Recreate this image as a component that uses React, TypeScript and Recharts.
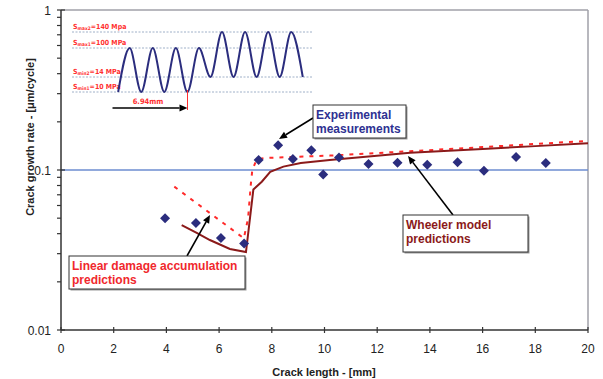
import React from 'react';
import { ComposedChart, LineChart, Line, Scatter, XAxis, YAxis, ReferenceLine } from 'recharts';

const FONT = "'Liberation Sans', Arial, Helvetica, sans-serif";
const NARROW = "'Liberation Sans Narrow', 'DejaVu Sans Condensed', 'Liberation Sans', Arial, sans-serif";

const NAVY = '#2b2d7e';
const DARK_RED = '#8b1a1a';
const RED = '#f0282d';

// axes
const X_TICKS = [0, 2, 4, 6, 8, 10, 12, 14, 16, 18, 20];
const Y_MAJOR = [0.01, 0.1, 1];
const Y_MINOR = [0.02, 0.03, 0.04, 0.05, 0.06, 0.07, 0.08, 0.09, 0.2, 0.3, 0.4, 0.5, 0.6, 0.7, 0.8, 0.9];

// experimental measurements (diamonds)
const MEAS_X = [3.95, 5.12, 6.07, 6.95, 7.5, 8.24, 8.8, 9.5, 9.95, 10.55, 11.67, 12.77, 13.9, 15.05, 16.05, 17.27, 18.4];
const MEAS_Y = [0.05, 0.0467, 0.0376, 0.0347, 0.1155, 0.143, 0.117, 0.133, 0.0937, 0.1197, 0.109, 0.111, 0.108, 0.1117, 0.099, 0.1206, 0.1106];

// Wheeler model (solid)
const WHEELER_X = [4.58, 5.15, 5.65, 6.41, 7.02, 7.3, 7.62, 7.94, 8.44, 9.1, 10.2, 13.25, 16, 18, 20];
const WHEELER_Y = [0.0453, 0.0404, 0.0365, 0.0321, 0.0307, 0.0755, 0.0845, 0.0975, 0.105, 0.1106, 0.1155, 0.128, 0.1355, 0.141, 0.147];

// linear damage accumulation (dotted)
const LINEAR_X = [4.3, 6.94, 7.1, 7.2, 7.26, 7.43, 7.8, 10.2, 13.25, 16, 18, 20];
const LINEAR_Y = [0.0787, 0.0374, 0.05, 0.08, 0.1, 0.1167, 0.119, 0.123, 0.131, 0.139, 0.1455, 0.152];

// inset load schematic: cycle position and level name
const WAVE_T = [0, 0.5, 1, 1.5, 2, 2.5, 3, 3.5, 4, 4.5, 5, 5.5, 6, 6.5, 7, 7.5, 8];
const WAVE_LEVEL = ['min1', 'max1', 'min1', 'max1', 'min1', 'max1', 'min1', 'max1', 'min2', 'max2', 'min2', 'max2', 'min2', 'max2', 'min2', 'max2', 'min2'];
// schematic heights of the stress levels in the inset
const LEVEL_HEIGHT: Record<string, number> = { max2: 80, max1: 64, min2: 35, min1: 20 };
const LEVEL_LABELS = [
  { key: 'max2', sub: 'max2', text: '=140 Mpa' },
  { key: 'max1', sub: 'max1', text: '=100 MPa' },
  { key: 'min2', sub: 'min2', text: '=14 MPa' },
  { key: 'min1', sub: 'min1', text: '=10 MPa' },
];

const meas = MEAS_X.map((x, i) => ({ x, y: MEAS_Y[i] }));
const wheeler = WHEELER_X.map((x, i) => ({ x, y: WHEELER_Y[i] }));
const linear = LINEAR_X.map((x, i) => ({ x, y: LINEAR_Y[i] }));
const wave = WAVE_T.map((t, i) => ({ t, h: LEVEL_HEIGHT[WAVE_LEVEL[i]] }));
const Y_TICKS = [...Y_MAJOR, ...Y_MINOR].sort((a, b) => a - b);

const Diamond = (props: any) => {
  const { cx, cy } = props;
  if (cx == null || cy == null) return null;
  const r = 5;
  return <polygon points={`${cx},${cy - r} ${cx + r},${cy} ${cx},${cy + r} ${cx - r},${cy}`} fill={NAVY} />;
};

const YTick = (props: any) => {
  const { x, y, payload } = props;
  const v = payload.value;
  const major = Y_MAJOR.includes(v);
  return (
    <g>
      <line x1={x - 4} x2={major ? x + 4 : x} y1={y} y2={y} stroke="#333" strokeWidth={1.2} />
      {major && (
        <text x={x - 10} y={y} dy={4.5} textAnchor="end" fontSize={12} fill="#222" fontFamily={FONT}>
          {String(v)}
        </text>
      )}
    </g>
  );
};

const XTick = (props: any) => {
  const { x, y, payload } = props;
  return (
    <g>
      <line x1={x} x2={x} y1={y - 3} y2={y + 3} stroke="#333" strokeWidth={1.2} />
      <text x={x} y={y + 23} textAnchor="middle" fontSize={12} fill="#222" fontFamily={FONT}>
        {payload.value}
      </text>
    </g>
  );
};

const LevelLabel = (props: any) => {
  const { viewBox, sub, text } = props;
  if (!viewBox) return null;
  return (
    <text x={viewBox.x + 1} y={viewBox.y - 3.5} fill="#ff3030" fontSize={7} fontWeight="bold" fontFamily={NARROW}>
      S
      <tspan fontSize={4.8} dy={1.5}>{sub}</tspan>
      <tspan fontSize={7} dy={-1.5}>{text}</tspan>
    </text>
  );
};

function Arrow({ x1, y1, x2, y2 }: { x1: number; y1: number; x2: number; y2: number }) {
  const a = Math.atan2(y2 - y1, x2 - x1);
  const L = 8;
  const W = 3.5;
  const bx = x2 - L * Math.cos(a);
  const by = y2 - L * Math.sin(a);
  const px = -Math.sin(a) * W;
  const py = Math.cos(a) * W;
  return (
    <g>
      <line x1={x1} y1={y1} x2={bx} y2={by} stroke="#000" strokeWidth={1.6} />
      <polygon points={`${x2},${y2} ${bx + px},${by + py} ${bx - px},${by - py}`} fill="#000" />
    </g>
  );
}

function NoteBox({ x, y, w, h, lines, color }: { x: number; y: number; w: number; h: number; lines: string[]; color: string }) {
  return (
    <g>
      <rect x={x + 1.5} y={y + 1.5} width={w} height={h} fill="#9a9a9a" />
      <rect x={x} y={y} width={w} height={h} fill="#fff" stroke="#333" strokeWidth={1} />
      {lines.map((l, i) => (
        <text key={i} x={x + 3} y={y + 13.5 + i * 14.5} fill={color} fontSize={12} fontWeight="bold" fontFamily={FONT}>
          {l}
        </text>
      ))}
    </g>
  );
}

export default function App() {
  return (
    <div style={{ position: 'absolute', left: 0, top: 0, width: 603, height: 379, background: '#fff', fontFamily: FONT }}>
      <ComposedChart width={603} height={379} margin={{ top: 10, right: 15, left: 0, bottom: 0 }}>
        <XAxis
          type="number"
          dataKey="x"
          domain={[0, 20]}
          ticks={X_TICKS}
          interval={0}
          height={49}
          tickSize={0}
          tickMargin={0}
          tickLine={false}
          axisLine={{ stroke: '#333', strokeWidth: 1.5 }}
          tick={<XTick />}
        />
        <YAxis
          type="number"
          dataKey="y"
          scale="log"
          domain={[0.01, 1]}
          allowDataOverflow
          ticks={Y_TICKS}
          interval={0}
          width={61}
          tickSize={0}
          tickMargin={0}
          tickLine={false}
          axisLine={{ stroke: '#333', strokeWidth: 1.5 }}
          tick={<YTick />}
        />
        <ReferenceLine y={1} stroke="#a0a0a8" strokeWidth={1.5} />
        <ReferenceLine x={20} stroke="#a0a0a8" strokeWidth={1.5} />
        <ReferenceLine y={0.1} stroke="#6d8cd0" strokeWidth={1.3} />
        <Line
          data={linear}
          dataKey="y"
          type="linear"
          stroke="#ff2a2a"
          strokeWidth={2}
          strokeDasharray="4 6"
          dot={false}
          activeDot={false}
          isAnimationActive={false}
        />
        <Line
          data={wheeler}
          dataKey="y"
          type="linear"
          stroke={DARK_RED}
          strokeWidth={2}
          dot={false}
          activeDot={false}
          isAnimationActive={false}
        />
        <Scatter data={meas} dataKey="y" shape={<Diamond />} isAnimationActive={false} />
      </ComposedChart>

      <div style={{ position: 'absolute', left: 72, top: 12, width: 240, height: 100 }}>
        <LineChart width={240} height={100} data={wave} margin={{ top: 0, right: 0, left: 0, bottom: 0 }}>
          <XAxis type="number" dataKey="t" domain={[-2, 8.4]} hide />
          <YAxis type="number" domain={[0, 100]} hide />
          {LEVEL_LABELS.map((l) => (
            <ReferenceLine
              key={l.key}
              y={LEVEL_HEIGHT[l.key]}
              stroke="#9fb0c8"
              strokeWidth={1}
              strokeDasharray="2 1.5"
              label={<LevelLabel sub={l.sub} text={l.text} />}
            />
          ))}
          <Line
            dataKey="h"
            type="monotone"
            stroke={NAVY}
            strokeWidth={2}
            dot={false}
            activeDot={false}
            isAnimationActive={false}
          />
        </LineChart>
      </div>

      <svg width={603} height={379} style={{ position: 'absolute', left: 0, top: 0, pointerEvents: 'none' }}>
        <text transform="translate(30,137) rotate(-90)" textAnchor="middle" dy={4} fontSize={11} fontWeight="bold" fill="#222" fontFamily={FONT}>
          Crack growth rate - [μm/cycle]
        </text>
        <text x={324} y={376} textAnchor="middle" fontSize={11} fontWeight="bold" fill="#222" fontFamily={FONT}>
          Crack length - [mm]
        </text>

        {/* inset 6.94mm marker */}
        <line x1={187.5} y1={90} x2={187.5} y2={110} stroke="#ff3030" strokeWidth={1} />
        <Arrow x1={112.5} y1={108} x2={187.5} y2={108} />
        <text x={148} y={104} textAnchor="middle" fill="#ff3030" fontSize={7.5} fontWeight="bold" fontFamily={NARROW}>
          6.94mm
        </text>

        <Arrow x1={313} y1={118} x2={279} y2={139} />
        <NoteBox x={313} y={105} w={93} h={33} lines={['Experimental', 'measurements']} color="#2e3192" />

        <Arrow x1={453} y1={215} x2={408} y2={156} />
        <NoteBox x={403} y={215} w={125} h={37} lines={['Wheeler model', 'predictions']} color={DARK_RED} />

        <Arrow x1={187} y1={256} x2={210} y2={215} />
        <NoteBox x={69} y={256} w={176} h={33} lines={['Linear damage accumulation', 'predictions']} color={RED} />
      </svg>
    </div>
  );
}
